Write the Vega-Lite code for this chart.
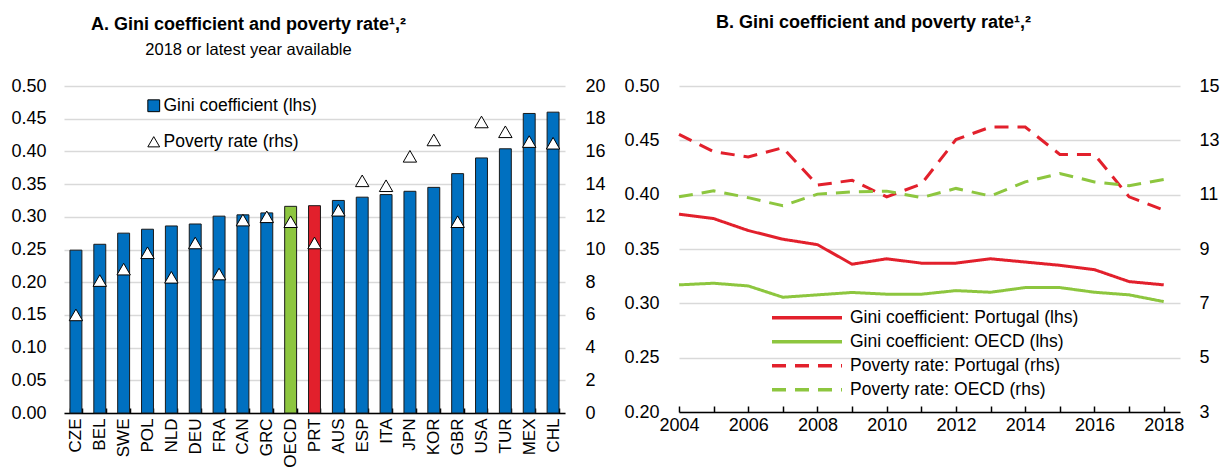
{
  "$schema": "https://vega.github.io/schema/vega-lite/v6.json",
  "background": "white",
  "padding": {"left": 10, "top": 14, "right": 3, "bottom": 5},
  "spacing": 17,
  "config": {
    "font": "Liberation Sans, Arial, sans-serif",
    "view": {"stroke": null},
    "axis": {"labelFontSize": 18, "labelColor": "black", "domainColor": "black", "tickColor": "black", "gridColor": "#d9d9d9", "gridWidth": 1.5, "title": null},
    "legend": {"labelFontSize": 17.5, "labelColor": "black"},
    "title": {"fontSize": 18, "fontWeight": "bold", "color": "black", "subtitleFontSize": 16.5, "subtitleColor": "black", "frame": "group"}
  },
  "datasets": {
    "countries": [
      {"country": "CZE", "gini": 0.249, "poverty": 6.0},
      {"country": "BEL", "gini": 0.258, "poverty": 8.1},
      {"country": "SWE", "gini": 0.275, "poverty": 8.8},
      {"country": "POL", "gini": 0.281, "poverty": 9.8},
      {"country": "NLD", "gini": 0.286, "poverty": 8.3},
      {"country": "DEU", "gini": 0.289, "poverty": 10.4},
      {"country": "FRA", "gini": 0.301, "poverty": 8.5},
      {"country": "CAN", "gini": 0.303, "poverty": 11.8},
      {"country": "GRC", "gini": 0.306, "poverty": 12.0},
      {"country": "OECD", "gini": 0.316, "poverty": 11.7},
      {"country": "PRT", "gini": 0.317, "poverty": 10.4},
      {"country": "AUS", "gini": 0.325, "poverty": 12.4},
      {"country": "ESP", "gini": 0.330, "poverty": 14.2},
      {"country": "ITA", "gini": 0.334, "poverty": 13.9},
      {"country": "JPN", "gini": 0.339, "poverty": 15.7},
      {"country": "KOR", "gini": 0.345, "poverty": 16.7},
      {"country": "GBR", "gini": 0.366, "poverty": 11.7},
      {"country": "USA", "gini": 0.390, "poverty": 17.8},
      {"country": "TUR", "gini": 0.404, "poverty": 17.2},
      {"country": "MEX", "gini": 0.458, "poverty": 16.6},
      {"country": "CHL", "gini": 0.460, "poverty": 16.5}
    ],
    "lines": [
      {"year": 2004, "name": "Gini coefficient: Portugal (lhs)", "value": 0.382},
      {"year": 2005, "name": "Gini coefficient: Portugal (lhs)", "value": 0.378},
      {"year": 2006, "name": "Gini coefficient: Portugal (lhs)", "value": 0.367},
      {"year": 2007, "name": "Gini coefficient: Portugal (lhs)", "value": 0.359},
      {"year": 2008, "name": "Gini coefficient: Portugal (lhs)", "value": 0.354},
      {"year": 2009, "name": "Gini coefficient: Portugal (lhs)", "value": 0.336},
      {"year": 2010, "name": "Gini coefficient: Portugal (lhs)", "value": 0.341},
      {"year": 2011, "name": "Gini coefficient: Portugal (lhs)", "value": 0.337},
      {"year": 2012, "name": "Gini coefficient: Portugal (lhs)", "value": 0.337},
      {"year": 2013, "name": "Gini coefficient: Portugal (lhs)", "value": 0.341},
      {"year": 2014, "name": "Gini coefficient: Portugal (lhs)", "value": 0.338},
      {"year": 2015, "name": "Gini coefficient: Portugal (lhs)", "value": 0.335},
      {"year": 2016, "name": "Gini coefficient: Portugal (lhs)", "value": 0.331},
      {"year": 2017, "name": "Gini coefficient: Portugal (lhs)", "value": 0.320},
      {"year": 2018, "name": "Gini coefficient: Portugal (lhs)", "value": 0.317},
      {"year": 2004, "name": "Gini coefficient: OECD (lhs)", "value": 0.317},
      {"year": 2005, "name": "Gini coefficient: OECD (lhs)", "value": 0.3185},
      {"year": 2006, "name": "Gini coefficient: OECD (lhs)", "value": 0.316},
      {"year": 2007, "name": "Gini coefficient: OECD (lhs)", "value": 0.3056},
      {"year": 2008, "name": "Gini coefficient: OECD (lhs)", "value": 0.3078},
      {"year": 2009, "name": "Gini coefficient: OECD (lhs)", "value": 0.310},
      {"year": 2010, "name": "Gini coefficient: OECD (lhs)", "value": 0.3084},
      {"year": 2011, "name": "Gini coefficient: OECD (lhs)", "value": 0.3084},
      {"year": 2012, "name": "Gini coefficient: OECD (lhs)", "value": 0.3117},
      {"year": 2013, "name": "Gini coefficient: OECD (lhs)", "value": 0.3102},
      {"year": 2014, "name": "Gini coefficient: OECD (lhs)", "value": 0.3145},
      {"year": 2015, "name": "Gini coefficient: OECD (lhs)", "value": 0.3145},
      {"year": 2016, "name": "Gini coefficient: OECD (lhs)", "value": 0.3102},
      {"year": 2017, "name": "Gini coefficient: OECD (lhs)", "value": 0.3078},
      {"year": 2018, "name": "Gini coefficient: OECD (lhs)", "value": 0.3016},
      {"year": 2004, "name": "Poverty rate: Portugal (rhs)", "value": 13.22},
      {"year": 2005, "name": "Poverty rate: Portugal (rhs)", "value": 12.58},
      {"year": 2006, "name": "Poverty rate: Portugal (rhs)", "value": 12.39},
      {"year": 2007, "name": "Poverty rate: Portugal (rhs)", "value": 12.73},
      {"year": 2008, "name": "Poverty rate: Portugal (rhs)", "value": 11.35},
      {"year": 2009, "name": "Poverty rate: Portugal (rhs)", "value": 11.53},
      {"year": 2010, "name": "Poverty rate: Portugal (rhs)", "value": 10.92},
      {"year": 2011, "name": "Poverty rate: Portugal (rhs)", "value": 11.39},
      {"year": 2012, "name": "Poverty rate: Portugal (rhs)", "value": 13.03},
      {"year": 2013, "name": "Poverty rate: Portugal (rhs)", "value": 13.49},
      {"year": 2014, "name": "Poverty rate: Portugal (rhs)", "value": 13.49},
      {"year": 2015, "name": "Poverty rate: Portugal (rhs)", "value": 12.48},
      {"year": 2016, "name": "Poverty rate: Portugal (rhs)", "value": 12.48},
      {"year": 2017, "name": "Poverty rate: Portugal (rhs)", "value": 10.92},
      {"year": 2018, "name": "Poverty rate: Portugal (rhs)", "value": 10.43},
      {"year": 2004, "name": "Poverty rate: OECD (rhs)", "value": 10.92},
      {"year": 2005, "name": "Poverty rate: OECD (rhs)", "value": 11.14},
      {"year": 2006, "name": "Poverty rate: OECD (rhs)", "value": 10.89},
      {"year": 2007, "name": "Poverty rate: OECD (rhs)", "value": 10.59},
      {"year": 2008, "name": "Poverty rate: OECD (rhs)", "value": 11.02},
      {"year": 2009, "name": "Poverty rate: OECD (rhs)", "value": 11.10},
      {"year": 2010, "name": "Poverty rate: OECD (rhs)", "value": 11.13},
      {"year": 2011, "name": "Poverty rate: OECD (rhs)", "value": 10.89},
      {"year": 2012, "name": "Poverty rate: OECD (rhs)", "value": 11.23},
      {"year": 2013, "name": "Poverty rate: OECD (rhs)", "value": 10.95},
      {"year": 2014, "name": "Poverty rate: OECD (rhs)", "value": 11.47},
      {"year": 2015, "name": "Poverty rate: OECD (rhs)", "value": 11.78},
      {"year": 2016, "name": "Poverty rate: OECD (rhs)", "value": 11.47},
      {"year": 2017, "name": "Poverty rate: OECD (rhs)", "value": 11.33},
      {"year": 2018, "name": "Poverty rate: OECD (rhs)", "value": 11.56}
    ]
  },
  "hconcat": [
    {
      "width": 501,
      "height": 327,
      "title": {"text": "A. Gini coefficient and poverty rate¹,²", "subtitle": "2018 or latest year available", "dx": -66, "offset": 19, "subtitlePadding": 8},
      "data": {"name": "countries"},
      "encoding": {
        "x": {"field": "country", "type": "nominal", "sort": null,
          "scale": {"paddingInner": 0.5, "paddingOuter": 0.25},
          "axis": {"labelAngle": -90, "labelAlign": "right", "labelBaseline": "middle", "labelFontSize": 17, "tickBand": "extent", "tickSize": -5, "labelPadding": 10, "domainWidth": 1.5, "tickWidth": 1.5, "grid": false}}
      },
      "layer": [
        {
          "mark": {"type": "bar", "stroke": "#1a1a1a", "strokeWidth": 1},
          "encoding": {
            "y": {"field": "gini", "type": "quantitative", "scale": {"domain": [0, 0.5]},
              "axis": {"orient": "left", "values": [0, 0.05, 0.1, 0.15, 0.2, 0.25, 0.3, 0.35, 0.4, 0.45, 0.5], "format": ".2f", "domain": false, "ticks": false, "labelPadding": 18, "grid": true}},
            "color": {"condition": [{"test": "datum.country === 'OECD'", "value": "#8DC63F"}, {"test": "datum.country === 'PRT'", "value": "#E2202C"}], "value": "#0070C0"}
          }
        },
        {
          "mark": {"type": "point", "filled": true, "strokeWidth": 1, "size": 180, "opacity": 1},
          "encoding": {
            "y": {"field": "poverty", "type": "quantitative", "scale": {"domain": [0, 20]},
              "axis": {"orient": "right", "values": [0, 2, 4, 6, 8, 10, 12, 14, 16, 18, 20], "format": "d", "domain": false, "ticks": false, "grid": false, "labelPadding": 20}},
            "shape": {"datum": "Poverty rate (rhs)", "type": "nominal",
              "scale": {"domain": ["Gini coefficient (lhs)", "Poverty rate (rhs)"], "range": ["square", "triangle-up"]},
              "legend": {"orient": "none", "legendX": 81, "legendY": 11, "title": null, "padding": 0, "rowPadding": 17, "labelOffset": 1, "labelLimit": 300, "symbolSize": 140, "symbolStrokeWidth": 1}},
            "fill": {"datum": "Poverty rate (rhs)", "type": "nominal",
              "scale": {"domain": ["Gini coefficient (lhs)", "Poverty rate (rhs)"], "range": ["#0070C0", "white"]},
              "legend": {"orient": "none", "legendX": 81, "legendY": 11, "title": null, "padding": 0, "rowPadding": 17, "labelOffset": 1, "labelLimit": 300, "symbolSize": 140, "symbolStrokeWidth": 1}},
            "stroke": {"datum": "Poverty rate (rhs)", "type": "nominal",
              "scale": {"domain": ["Gini coefficient (lhs)", "Poverty rate (rhs)"], "range": ["black", "black"]},
              "legend": {"orient": "none", "legendX": 81, "legendY": 11, "title": null, "padding": 0, "rowPadding": 17, "labelOffset": 1, "labelLimit": 300, "symbolSize": 140, "symbolStrokeWidth": 1}}
          }
        }
      ],
      "resolve": {"scale": {"y": "independent"}}
    },
    {
      "width": 501,
      "height": 326,
      "title": {"text": "B. Gini coefficient and poverty rate¹,²", "dx": -56, "offset": 45},
      "data": {"name": "lines"},
      "encoding": {
        "x": {"field": "year", "type": "quantitative", "scale": {"domain": [2004, 2018.47], "nice": false, "zero": false},
          "axis": {"values": [2004, 2005, 2006, 2007, 2008, 2009, 2010, 2011, 2012, 2013, 2014, 2015, 2016, 2017, 2018], "format": "d", "labelExpr": "datum.value % 2 === 0 ? datum.label : ''", "tickSize": -6, "labelPadding": 10, "domainWidth": 1.5, "tickWidth": 1.5, "grid": false, "labelFlush": false, "labelOverlap": false}},
        "color": {"field": "name", "type": "nominal",
          "scale": {"domain": ["Gini coefficient: Portugal (lhs)", "Gini coefficient: OECD (lhs)", "Poverty rate: Portugal (rhs)", "Poverty rate: OECD (rhs)"], "range": ["#E2202C", "#8DC63F", "#E2202C", "#8DC63F"]},
          "legend": {"orient": "none", "legendX": 706, "legendY": 220, "title": null, "padding": 0, "symbolType": "stroke", "symbolSize": 4900, "symbolStrokeWidth": 3.5, "clipHeight": 23.3, "rowPadding": 0, "labelOffset": 6, "labelLimit": 400}},
        "strokeDash": {"field": "name", "type": "nominal",
          "scale": {"domain": ["Gini coefficient: Portugal (lhs)", "Gini coefficient: OECD (lhs)", "Poverty rate: Portugal (rhs)", "Poverty rate: OECD (rhs)"], "range": [[1, 0], [1, 0], [14, 9], [14, 9]]},
          "legend": {"orient": "none", "legendX": 706, "legendY": 220, "title": null, "padding": 0, "symbolType": "stroke", "symbolSize": 4900, "symbolStrokeWidth": 3.5, "clipHeight": 23.3, "rowPadding": 0, "labelOffset": 6, "labelLimit": 400}}
      },
      "layer": [
        {
          "transform": [{"filter": "indexof(datum.name, '(lhs)') >= 0"}],
          "mark": {"type": "line", "strokeWidth": 3},
          "encoding": {
            "y": {"field": "value", "type": "quantitative", "scale": {"domain": [0.2, 0.5], "zero": false},
              "axis": {"orient": "left", "values": [0.2, 0.25, 0.3, 0.35, 0.4, 0.45, 0.5], "format": ".2f", "domain": false, "ticks": false, "labelPadding": 20, "grid": true}}
          }
        },
        {
          "transform": [{"filter": "indexof(datum.name, '(rhs)') >= 0"}],
          "mark": {"type": "line", "strokeWidth": 3},
          "encoding": {
            "y": {"field": "value", "type": "quantitative", "scale": {"domain": [3, 15], "zero": false},
              "axis": {"orient": "right", "values": [3, 5, 7, 9, 11, 13, 15], "format": "d", "domain": false, "ticks": false, "labelPadding": 19, "grid": false}}
          }
        }
      ],
      "resolve": {"scale": {"y": "independent"}}
    }
  ]
}
